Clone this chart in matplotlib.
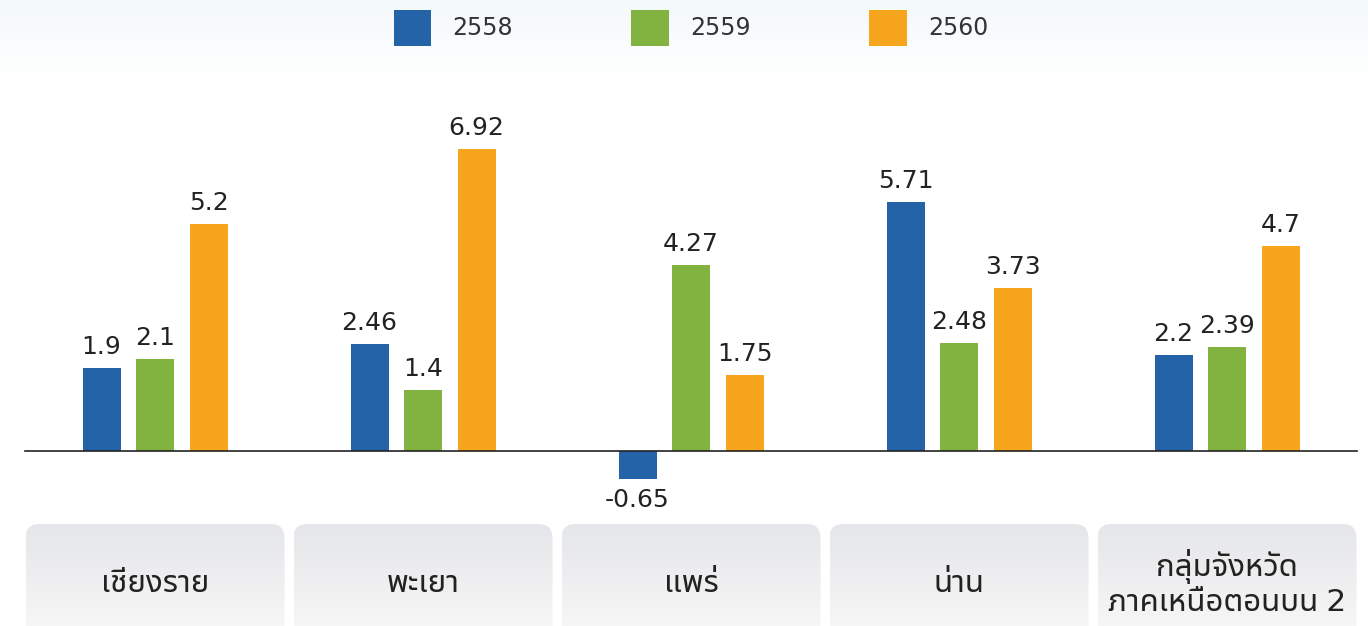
import numpy as np
import matplotlib
matplotlib.use("Agg")
import matplotlib.pyplot as plt
from matplotlib import font_manager
from matplotlib.ft2font import FT2Font
from matplotlib.patches import FancyBboxPatch

# data
categories = ["เชียงราย", "พะเยา", "แพร่", "น่าน", "กลุ่มจังหวัด\nภาคเหนือตอนบน 2"]
years = ["2558", "2559", "2560"]
v2558 = [1.9, 2.46, -0.65, 5.71, 2.2]
v2559 = [2.1, 1.4, 4.27, 2.48, 2.39]
v2560 = [5.2, 6.92, 1.75, 3.73, 4.7]
labels2558 = ["1.9", "2.46", "-0.65", "5.71", "2.2"]
labels2559 = ["2.1", "1.4", "4.27", "2.48", "2.39"]
labels2560 = ["5.2", "6.92", "1.75", "3.73", "4.7"]

COLORS = ["#2563a8", "#82b341", "#f7a51c"]
W, H = 1368, 626


def thai_family():
    # installed fonts with Thai glyphs; prefer a loopless sans
    names = []
    for f in font_manager.fontManager.ttflist:
        try:
            if 0x0E40 in FT2Font(f.fname).get_charmap():
                names.append(f.name)
        except Exception:
            continue
    if not names:
        return None
    for key in ("Noto Sans Thai UI", "Noto Sans Thai", "Kanit", "Prompt",
                "Sarabun", "Tlwg Typist", "Waree", "Loma"):
        for n in names:
            if n == key:
                return n
    for n in names:
        if "Looped" not in n and "Serif" not in n:
            return n
    return names[0]


th = thai_family()
TH_FAM = [th, "DejaVu Sans"] if th else ["DejaVu Sans"]

fig = plt.figure(figsize=(W / 100, H / 100), dpi=100)

# faint blue wash across the top
bg = fig.add_axes([0, 1 - 80 / H, 1, 80 / H], zorder=-5)
grad = np.linspace(0, 1, 50)[:, None]
top, bot = np.array([0.955, 0.975, 0.982]), np.array([1.0, 1.0, 1.0])
bg.imshow(top + (bot - top) * grad[..., None] * np.ones((1, 2, 1)),
          aspect="auto", extent=[0, 1, 0, 1])
bg.axis("off")

# main bar area: zero line at y=451 px, ~43.6 px per unit
ppu = 43.6
ax_top, ax_bot = 60, 520
ax = fig.add_axes([0, (H - ax_bot) / H, 1, (ax_bot - ax_top) / H])
ax.patch.set_alpha(0)
x = np.arange(len(categories))
pitch_px, group_px, first_px = 53.5, 268.0, 155.0
step = pitch_px / group_px
bw = 38.0 / group_px

series = [v2558, v2559, v2560]
texts = [labels2558, labels2559, labels2560]
for k, (vals, labs) in enumerate(zip(series, texts)):
    xs = x + (k - 1) * step
    ax.bar(xs, vals, bw, color=COLORS[k], label=years[k], zorder=2)
    for xi, v, s in zip(xs, vals, labs):
        if v >= 0:
            ax.text(xi, v + 9 / ppu, s, ha="center", va="bottom", fontsize=18,
                    color="#222222")
        else:
            ax.text(xi, v - 9 / ppu, s, ha="center", va="top", fontsize=18,
                    color="#222222")

ax.set_xlim(-first_px / group_px, (W - first_px) / group_px)
ax.set_ylim(-(ax_bot - 451) / ppu, (451 - ax_top) / ppu)
ax.axhline(0, xmin=25 / W, xmax=1357 / W, color="#222222", lw=1.2, zorder=3)
ax.axis("off")

leg = ax.legend(loc="center", bbox_to_anchor=(0.505, 1 - 28 / H),
                bbox_transform=fig.transFigure, ncol=3, frameon=False,
                handlelength=1.6, handleheight=2.0,
                handletextpad=0.9, columnspacing=5.0,
                prop={"family": ["Liberation Sans Narrow", "DejaVu Sans"],
                      "size": 17})
for t in leg.get_texts():
    t.set_color("#333333")

# category tabs along the bottom
strip_h = 102
sx = fig.add_axes([0, 0, 1, strip_h / H], sharex=ax)
sx.set_ylim(0, 1)
sx.axis("off")
box_w = 259.0 / group_px
r = 14.0 / group_px
gtop, gbot = np.array([0.898, 0.902, 0.914]), np.array([0.965, 0.965, 0.965])
gimg = gtop + (gbot - gtop) * np.linspace(0, 1, 64)[:, None, None] * np.ones((1, 2, 1))
for i, name in enumerate(categories):
    x0, x1 = i - box_w / 2, i + box_w / 2
    patch = FancyBboxPatch((x0, -0.5), box_w, 1.5,
                           boxstyle=f"round,pad=0,rounding_size={r}",
                           mutation_aspect=group_px / strip_h,
                           fc="none", ec="none")
    sx.add_patch(patch)
    im = sx.imshow(gimg, aspect="auto", extent=[x0, x1, 0, 1], zorder=1)
    im.set_clip_path(patch)
    sx.text(i, (H - 583) / strip_h, name, ha="center", va="center",
            fontsize=22.5, color="#222222", family=TH_FAM, linespacing=1.2,
            zorder=3)
sx.set_xlim(ax.get_xlim())
sx.set_ylim(0, 1)

fig.savefig("out.png", dpi=100)
